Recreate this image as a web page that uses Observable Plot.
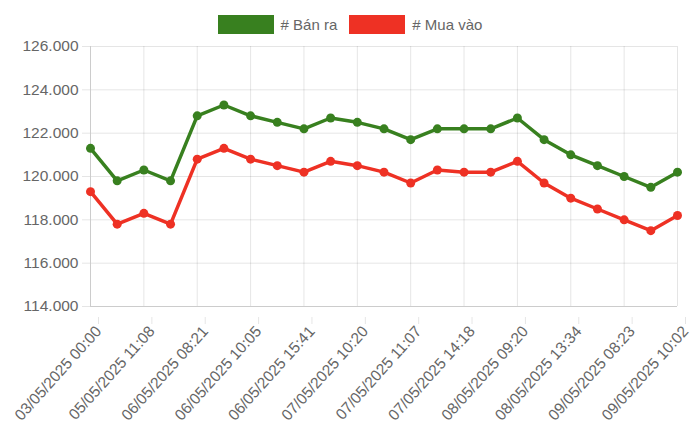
<!DOCTYPE html>
<html><head><meta charset="utf-8">
<script src="https://cdn.jsdelivr.net/npm/d3@7"></script>
<script src="https://cdn.jsdelivr.net/npm/@observablehq/plot@0.6"></script>
<style>
body{margin:0;background:#fff;font-family:"Liberation Sans",Arial,Helvetica,sans-serif;}
#wrap{position:relative;width:700px;height:438px;}
#legend{position:absolute;left:0;top:15px;width:700px;display:flex;justify-content:center;align-items:center;}
.item{display:flex;align-items:center;font-size:15px;color:#666;}
.box{width:56px;height:19px;margin-right:7px;box-sizing:border-box;}
</style></head>
<body>
<div id="wrap"><div id="chart"></div><div id="legend"></div></div>
<script>
const tickLabels = ["03/05/2025 00:00","05/05/2025 11:08","06/05/2025 08:21","06/05/2025 10:05","06/05/2025 15:41","07/05/2025 10:20","07/05/2025 11:07","07/05/2025 14:18","08/05/2025 09:20","08/05/2025 13:34","09/05/2025 08:23","09/05/2025 10:02"];
const banRa = [121300,119800,120300,119800,122800,123300,122800,122500,122200,122700,122500,122200,121700,122200,122200,122200,122700,121700,121000,120500,120000,119500,120200];
const muaVao = [119300,117800,118300,117800,120800,121300,120800,120500,120200,120700,120500,120200,119700,120300,120200,120200,120700,119700,119000,118500,118000,117500,118200];
const seriesNames = ["# Bán ra","# Mua vào"];
const seriesColors = ["#38801f","#ee3124"];
const yTicks = [114000,116000,118000,120000,122000,124000,126000];

const legend = document.getElementById("legend");
seriesNames.forEach((n,i)=>{
  const it=document.createElement("div");it.className="item";
  if(i>0) it.style.marginLeft="12px";
  const b=document.createElement("div");b.className="box";b.style.background=seriesColors[i];
  const t=document.createElement("span");t.textContent=n;
  it.appendChild(b);it.appendChild(t);legend.appendChild(it);
});

const data = [];
banRa.forEach((v,i)=>data.push({i,v,s:seriesNames[0]}));
muaVao.forEach((v,i)=>data.push({i,v,s:seriesNames[1]}));
const xTicks = d3.range(0, banRa.length, 2);
const fmt = v => d3.format(",")(v).replace(/,/g,".");

const chart = Plot.plot({
  width:700, height:438,
  marginTop:46, marginLeft:90, marginRight:23, marginBottom:132,
  style:{fontFamily:"'Liberation Sans',Arial,Helvetica,sans-serif",fontSize:"15.5px",color:"#666",background:"#fff"},
  x:{domain:[0,banRa.length-1]},
  y:{domain:[114000,126000]},
  color:{domain:seriesNames, range:seriesColors},
  marks:[
    Plot.gridY(yTicks,{stroke:"#000",strokeOpacity:0.1,strokeWidth:1}),
    Plot.gridX(xTicks,{stroke:"#000",strokeOpacity:0.1,strokeWidth:1}),
    Plot.axisY({ticks:yTicks,tickFormat:fmt,tickSize:8,tickPadding:4,stroke:"#000",strokeOpacity:0.1,fill:"#666",label:null}),
    Plot.axisX({ticks:xTicks,tickFormat:i=>tickLabels[i/2],tickRotate:-48,tickSize:7,tickPadding:4,dx:8,dy:11,stroke:"#000",strokeOpacity:0.1,fill:"#666",label:null}),
    Plot.ruleX([0],{stroke:"#ccc"}),
    Plot.ruleY([114000],{stroke:"#ccc"}),
    Plot.line(data,{x:"i",y:"v",z:"s",stroke:"s",strokeWidth:3.5}),
    Plot.dot(data,{x:"i",y:"v",fill:"s",r:4.5})
  ]
});
document.getElementById("chart").appendChild(chart);
</script>
</body></html>
